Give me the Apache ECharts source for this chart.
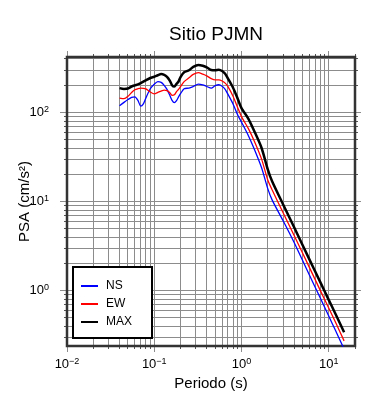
<!DOCTYPE html>
<html><head><meta charset="utf-8">
<script src="https://cdn.jsdelivr.net/npm/echarts@6/dist/echarts.min.js"></script>
<style>html,body{margin:0;padding:0;background:#fff}#c{width:390px;height:400px}</style>
</head><body><div id="c"></div>
<script>
// ---- data ----
const periods = [0.04,0.045,0.05,0.055,0.06,0.065,0.07,0.075,0.08,0.09,0.1,0.11,0.12,0.13,0.14,0.15,0.16,0.17,0.18,0.19,0.2,0.22,0.25,0.28,0.32,0.36,0.4,0.45,0.5,0.55,0.6,0.65,0.7,0.8,0.9,1.0,1.2,1.4,1.7,2.0,2.25,3,4,6,8,10,12,15];
const psaNS  = [119,130,140,148,150,137,118,125,145,185,208,222,218,202,182,158,137,129,136,150,163,185,188,196,208,204,196,188,200,205,197,182,160,125,95,78,55,39,24,14,10.4,6.1,3.5,1.5,0.83,0.52,0.355,0.222];
const psaEW  = [145,143,152,168,180,185,188,187,184,170,162,168,174,178,176,168,156,158,172,182,195,222,245,268,280,270,258,240,232,232,226,214,195,152,115,90,66,48,30,17.5,13.5,7.5,4.2,1.83,1.01,0.64,0.44,0.274];
const psaMAX = [188,184,186,196,202,207,214,222,230,244,252,262,270,265,252,230,203,196,210,223,250,283,298,325,342,335,322,300,298,302,292,272,240,190,145,112,85,62,40,23,16.8,9.3,5.2,2.25,1.25,0.79,0.545,0.343];
const seriesNames = ['NS','EW','MAX'];
const xRange = [0.01, 20];
const yRange = [0.24, 420];
const xDecades = [0.01, 0.1, 1, 10];
const yDecades = [0.1, 1, 10, 100];
const decadeSteps = [1,2,3,4,5,6,7,8,9];

const FONT = '"Liberation Sans", Arial, Helvetica, sans-serif';

function gridValues(decades, range) {
  const out = [];
  decades.forEach(d => decadeSteps.forEach(m => {
    const v = +(d * m).toPrecision(6);
    if (v >= range[0] - 1e-9 && v <= range[1] + 1e-9) out.push({v: v, major: m === 1});
  }));
  return out;
}
const xGrid = gridValues(xDecades, xRange);
const yGrid = gridValues(yDecades, yRange);

function powLabel(v) {
  const e = Math.log10(v), r = Math.round(e);
  if (Math.abs(e - r) > 1e-6) return '';
  return '{b|10}{s|' + (r < 0 ? '\u2212' + (-r) : r) + '}';
}
const labelRich = {
  b: {fontSize: 13, fontFamily: FONT, color: '#000', lineHeight: 15},
  s: {fontSize: 9, fontFamily: FONT, color: '#000', verticalAlign: 'top', lineHeight: 9}
};

const chart = echarts.init(document.getElementById('c'), null, {renderer: 'canvas'});
const gridColor = '#8c8c8c', tickColor = '#555';

function ln(x1, y1, x2, y2, c, w) {
  return {type: 'line', shape: {x1: x1, y1: y1, x2: x2, y2: y2}, style: {stroke: c, lineWidth: w}};
}

chart.setOption({
  animation: false,
  backgroundColor: '#fff',
  title: {
    text: 'Sitio PJMN', left: 211, top: 20, textAlign: 'center',
    textStyle: {fontSize: 19, fontWeight: 'normal', color: '#000', fontFamily: FONT}
  },
  grid: {left: 67, top: 57, width: 288, height: 289, show: false, containLabel: false, outerBoundsMode: 'none'},
  legend: {
    data: seriesNames, orient: 'vertical', left: 73, top: 267,
    padding: [12, 20, 9, 8], itemGap: 4, itemWidth: 17, itemHeight: 2, icon: 'rect',
    backgroundColor: '#fff', borderColor: '#000', borderWidth: 2, borderRadius: 0,
    textStyle: {fontSize: 12, lineHeight: 14, color: '#000', fontFamily: FONT, padding: [0, 0, 0, 3]}
  },
  xAxis: {
    type: 'log', logBase: 10, min: xRange[0], max: xRange[1],
    axisLine: {show: false}, axisTick: {show: false}, splitLine: {show: false},
    axisLabel: {formatter: powLabel, rich: labelRich, margin: 11, showMinLabel: true, showMaxLabel: true},
    name: 'Periodo (s)', nameLocation: 'middle', nameGap: 30, nameMoveOverlap: false,
    nameTextStyle: {fontSize: 15, color: '#000', fontFamily: FONT}
  },
  yAxis: {
    type: 'log', logBase: 10, min: yRange[0], max: yRange[1],
    axisLine: {show: false}, axisTick: {show: false}, splitLine: {show: false},
    axisLabel: {formatter: powLabel, rich: labelRich, margin: 18},
    name: 'PSA (cm/s²)', nameLocation: 'middle', nameGap: 35, nameRotate: 90, nameMoveOverlap: false,
    nameTextStyle: {fontSize: 15, color: '#000', fontFamily: FONT}
  },
  series: [
    {
      type: 'custom', coordinateSystem: 'cartesian2d', clip: false, silent: true, z: 1,
      data: [[1, 1]],
      renderItem: function (params, api) {
        const bl = api.coord([xRange[0], yRange[0]]);
        const tr = api.coord([xRange[1], yRange[1]]);
        const L = bl[0], B = bl[1], R = tr[0], T = tr[1];
        const cr = v => Math.round(v - 0.5) + 0.5;
        const ch = [];
        xGrid.forEach(g => {
          const px = cr(api.coord([g.v, yRange[0]])[0]);
          ch.push(ln(px, T, px, B, gridColor, 1));
          if (g.major) { ch.push(ln(px, B, px, B + 6, gridColor, 1)); ch.push(ln(px, T - 6, px, T, gridColor, 1)); }
          else { ch.push(ln(px, B, px, B + 3, tickColor, 1)); ch.push(ln(px, T - 3, px, T, tickColor, 1)); }
        });
        yGrid.forEach(g => {
          const py = cr(api.coord([xRange[0], g.v])[1]);
          ch.push(ln(L, py, R, py, gridColor, 1));
          if (g.major) { ch.push(ln(L - 7, py, L, py, gridColor, 1)); ch.push(ln(R, py, R + 6, py, gridColor, 1)); }
          else { ch.push(ln(L - 3, py, L, py, tickColor, 1)); ch.push(ln(R, py, R + 3, py, tickColor, 1)); }
        });
        ch.push({type: 'rect', shape: {x: L, y: T, width: R - L, height: B - T},
                 style: {fill: null, stroke: '#333', lineWidth: 2.5}});
        return {type: 'group', children: ch};
      }
    },
    {name: 'NS', type: 'line', z: 3, symbol: 'none', smooth: 0.25, color: '#0000ff',
     lineStyle: {width: 1.3, color: '#0000ff'}, data: periods.map((p, i) => [p, psaNS[i]])},
    {name: 'EW', type: 'line', z: 3, symbol: 'none', smooth: 0.25, color: '#ff0000',
     lineStyle: {width: 1.3, color: '#ff0000'}, data: periods.map((p, i) => [p, psaEW[i]])},
    {name: 'MAX', type: 'line', z: 4, symbol: 'none', smooth: 0.25, color: '#000000',
     lineStyle: {width: 2.5, color: '#000000'}, data: periods.map((p, i) => [p, psaMAX[i]])}
  ]
});
</script>
</body></html>
